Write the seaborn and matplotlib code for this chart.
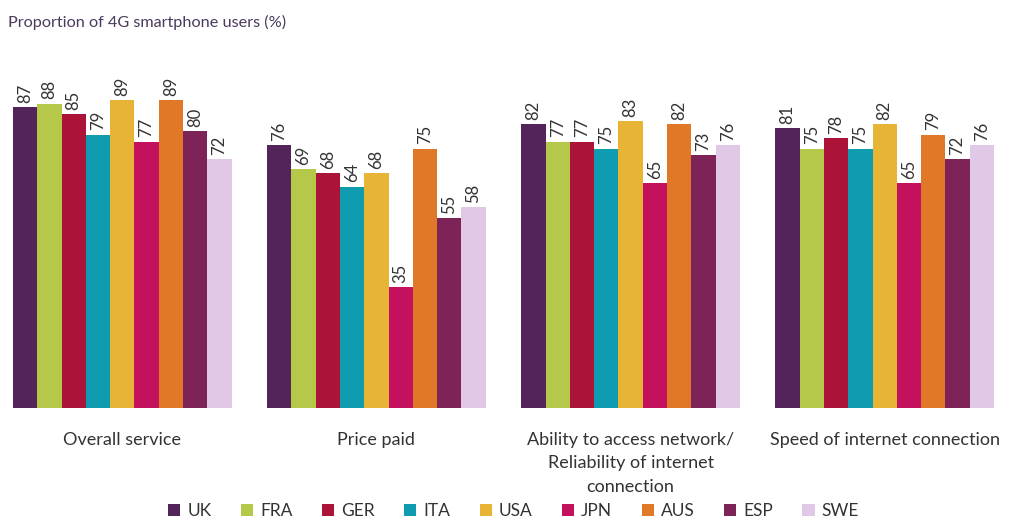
import pandas as pd
import seaborn as sns
import matplotlib.pyplot as plt
from matplotlib.patches import Patch

# Chart data
categories = ["Overall service", "Price paid",
              "Ability to access network/\nReliability of internet\nconnection",
              "Speed of internet connection"]
countries = ["UK", "FRA", "GER", "ITA", "USA", "JPN", "AUS", "ESP", "SWE"]
overall = [87, 88, 85, 79, 89, 77, 89, 80, 72]
price = [76, 69, 68, 64, 68, 35, 75, 55, 58]
access = [82, 77, 77, 75, 83, 65, 82, 73, 76]
speed = [81, 75, 78, 75, 82, 65, 79, 72, 76]
colors = ["#52245a", "#b5c84a", "#ab1339", "#0f9bb0", "#e8b436",
          "#c4115e", "#e07828", "#7d2358", "#e0c8e6"]

rows = []
for cat, vals in zip(categories, [overall, price, access, speed]):
    for c, v in zip(countries, vals):
        rows.append({"category": cat, "country": c, "value": v})
df = pd.DataFrame(rows)

sns.set_theme(style="white")
plt.rcParams['font.family'] = ['Lato', 'DejaVu Sans']

fig = plt.figure(figsize=(10.11, 5.23), dpi=100)
ax = fig.add_axes([13 / 1011, (523 - 408) / 523, 981 / 1011, 346 / 523])

sns.barplot(data=df, x="category", y="value", hue="country",
            order=categories, hue_order=countries, palette=colors,
            width=0.86, linewidth=0, saturation=1, legend=False, ax=ax)

# rotated value labels above each bar
for cont in ax.containers:
    ax.bar_label(cont, rotation=90, padding=3, fontsize=12, color="#333333")

ax.set_xlim(-0.43, 3.43)
ax.set_ylim(0, 100)
ax.set_xlabel("")
ax.set_ylabel("")
ax.set_yticks([])
ax.tick_params(axis="x", length=0, pad=17, labelsize=13, labelcolor="#333333")
for lab in ax.get_xticklabels():
    lab.set_verticalalignment("top")
    lab.set_linespacing(1.6)
sns.despine(left=True, bottom=True)

fig.text(8 / 1011, 1 - 22 / 523, "Proportion of 4G smartphone users (%)",
         fontsize=11.7, color="#4a3a5c", va="center", ha="left")

handles = [Patch(facecolor=col, edgecolor="none", label=c) for c, col in zip(countries, colors)]
fig.legend(handles=handles, loc="center", bbox_to_anchor=(0.508, 1 - 511 / 523),
           ncol=9, frameon=False, fontsize=12.5, handlelength=0.7, handleheight=0.7,
           handletextpad=0.4, columnspacing=1.7, labelcolor="#333333")

fig.savefig("out.png", dpi=100)
